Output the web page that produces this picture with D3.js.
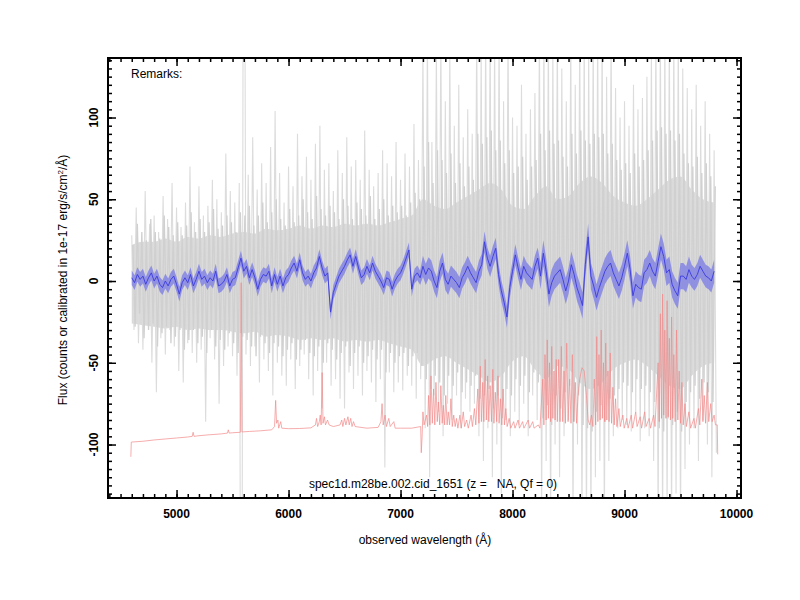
<!DOCTYPE html>
<html>
<head>
<meta charset="utf-8">
<script src="https://cdn.jsdelivr.net/npm/d3@7.9.0/dist/d3.min.js"></script>
<style>
  body { margin: 0; background: #fff; }
  text { font-family: "Liberation Sans", Arial, Helvetica, sans-serif; fill: #000; }
</style>
</head>
<body>
<svg id="chart" width="800" height="600"></svg>
<script>
// ---- data ----
// smoothed flux (blue), one value every 25 A starting at 4600
const blueStart = 4600, blueStep = 25;
const blueFlux = [
  2, -1, 4, 1,   3, -2, 2, 5,   0, 3, -2, -4,   0, -3, 1, 3,
  -2, -8, -1, 2,   -1, 4, -3, 1,   6, 1, 3, -1,   2, 0, 6, -3,
  -2, 0, 4, -3,   1, 2, 8, 14,   6, 9, 2, 7,   2, -5, 1, 4,
  3, 6, -3, 4,   -2, 3, -3, 2,   4, 8, 11, 6,   13, 5, 1, 3,
  0, 5, 8, 15,   8, 3, 5, -19,   -7, -2, 3, 6,   9, 13, 16, 9,
  15, 8, 2, 4,   9, 5, 11, 6,   3, 0, -4, 2,   1, -5, 0, 3,
  5, 9, 14, 19,   -5, 3, 5, 2,   9, 4, 8, 6,   0, -4, 6, 11,
  1, -2, 3, 1,   -1, -4, 2, 5,   9, 5, 2, -1,   6, 10, 24, 14,
  9, 15, 20, 4,   -6, -13, -22, -4,   6, 16, 8, 1,   9, 5, 3, 1,
  9, 14, 3, 17,   6, -8, -1, 3,   5, 7, 1, -6,   0, 10, 4, -4,
  -9, -15, 10, 27,   3, -3, -10, -4,   1, 6, 9, 11,   5, 1, -3, 2,
  9, 17, 7, -9,   -2, -4, -5, 5,   7, 11, 6, 3,   12, 21, 15, 5,
  7, -2, -6, -9,   3, 3, 1, 7,   3, 1, 4, 9,   6, 3, 2, 0,
  6
];
// error of the smoothed flux, per wavelength range [from, err]
const blueErr = [[4600, 4.5], [7200, 6.5], [8250, 8], [9600, 7]];

// raw spectrum (gray), outer swings, one value every 20 A from 4600
const grayStart = 4600, grayStep = 20;
const grayFlux = [
  28, -30, 45, -38, 22, -42, 55, -25, 35, -50,
  40, -68, 30, -35, 52, -45, 38, -30, 60, -40,
  45, -55, 33, -62, 48, -38, 70, -44, 36, -50,
  58, -42, 40, -86, 46, -35, 62, -48, 50, -75,
  42, -52, 78, -40, 55, -46, 48, -58, 60, -400,
  400, -45, 65, -52, 88, -40, 56, -62, 72, -48,
  60, -55, 82, -70, 104, -50, 66, -58, 48, -64,
  70, -48, 58, -66, 90, -52, 64, -45, 76, -60,
  62, -70, 84, -55, 95, -78, 68, -50, 72, -64,
  55, -60, 80, -72, 66, -78, 88, -56, 70, -66,
  74, -58, 62, -70, 92, -55, 68, -62, 58, -74,
  66, -60, 80, -114, 72, -56, 64, -68, 85, -62,
  62, -67, 78, -58, 70, -64, 96, -72, 74, -60,
  140, -90, 150, -120, 85, -70, 140, -80, 150, -95,
  110, -75, 140, -85, 95, -70, 120, -90, 88, -72,
  105, -80, 90, -75, 150, -95, 140, -110, 150, -90,
  150, -120, 145, -100, 150, -130, 110, -85, 150, -95,
  100, -80, 95, -88, 120, -75, 90, -95, 105, -70,
  115, -85, 150, -140, 150, -110, 150, -150, 140, -100,
  150, -120, 130, -95, 110, -85, 150, -150, 120, -100,
  150, -150, 150, -150, 140, -150, 150, -120, 150, -110,
  150, -150, 125, -110, 150, -95, 118, -90, 100, -85,
  110, -88, 95, -92, 120, -80, 105, -98, 112, -90,
  125, -95, 140, -110, 150, -150, 150, -150, 150, -140,
  150, -150, 150, -130, 150, -150, 130, -115, 118, -100,
  105, -90, 120, -110, 95, -85, 110, -100, 90, -120,
  80, -105
];
// raw spectrum, inner swings, one value every 20 A from 4610
const innerStart = 4610, innerStep = 20;
const innerFlux = [
  22, -28, 35, -20, 30, -35, 25, -30, 38, -26,
  30, -40, 26, -32, 40, -28, 33, -38, 28, -34,
  36, -30, 28, -42, 34, -36, 42, -30, 30, -38,
  38, -34, 30, -44, 36, -30, 44, -40, 32, -36,
  34, -42, 40, -32, 36, -38, 30, -44, 42, -34,
  40, -36, 46, -40, 34, -46, 40, -34, 48, -38,
  36, -44, 42, -38, 50, -40, 38, -46, 34, -42,
  44, -38, 36, -48, 40, -42, 50, -36, 42, -44,
  38, -46, 52, -40, 44, -50, 40, -38, 46, -42,
  42, -48, 38, -44, 50, -40, 46, -52, 38, -44,
  48, -40, 44, -50, 40, -46, 52, -42, 38, -48,
  44, -42, 50, -56, 40, -44, 46, -50, 42, -46,
  46, -44, 40, -52, 48, -46, 54, -44, 50, -52,
  70, -60, 85, -66, 60, -58, 80, -62, 74, -70,
  66, -58, 78, -64, 60, -56, 72, -68, 58, -62,
  70, -64, 62, -58, 90, -72, 84, -70, 88, -66,
  92, -78, 80, -70, 86, -84, 72, -66, 80, -70,
  66, -60, 70, -64, 76, -58, 62, -68, 70, -56,
  74, -62, 90, -84, 80, -76, 92, -88, 84, -70,
  86, -78, 76, -68, 70, -64, 90, -86, 78, -70,
  92, -88, 86, -90, 84, -92, 90, -80, 88, -76,
  90, -86, 78, -72, 84, -70, 74, -66, 68, -62,
  72, -64, 66, -68, 78, -60, 70, -66, 74, -64,
  80, -68, 86, -74, 92, -90, 94, -92, 90, -84,
  92, -88, 86, -80, 90, -92, 78, -74, 72, -68,
  70, -64, 76, -72, 66, -62, 72, -68, 64, -74,
  58
];
// dense core of the raw spectrum, every 100 A from 4600
const coreStart = 4600, coreStep = 100;
const coreHi = [
  22, 24, 24, 26, 24, 27, 26, 28, 27, 29,
  30, 29, 32, 31, 32, 34, 32, 34, 33, 35,
  34, 35, 34, 36, 38, 40, 50, 46, 44, 48,
  52, 56, 60, 56, 46, 44, 52, 58, 50, 52,
  60, 64, 60, 52, 48, 46, 50, 56, 62, 64,
  56, 50, 48
];
const coreLo = [
  -26, -27, -28, -29, -28, -30, -29, -30, -30, -31,
  -32, -31, -34, -33, -34, -36, -35, -36, -35, -37,
  -36, -37, -36, -38, -40, -42, -52, -48, -46, -50,
  -54, -58, -62, -58, -49, -46, -54, -60, -52, -54,
  -62, -66, -62, -54, -50, -48, -52, -58, -64, -66,
  -58, -52, -50
];

// sky / noise spectrum (red) as [wavelength, flux]
const skyLine = [
  [4592, -107.5], [4596, -98.5], [4700, -98], [4800, -97.2], [4900, -96.6], [5000, -96],
  [5100, -95.4], [5140, -95], [5148, -92.5], [5156, -95], [5200, -94.6], [5300, -94],
  [5400, -93.5], [5455, -93], [5462, -91], [5470, -93], [5500, -92.8], [5570, -92.5],
  [5577, -1], [5584, -92.3], [5650, -92], [5750, -91.6], [5850, -91], [5875, -89],
  [5885, -73], [5893, -87], [5905, -85], [5912, -90], [5930, -86], [5940, -90],
  [6000, -90.3], [6100, -90.2], [6200, -89.8], [6240, -88], [6250, -84], [6260, -89],
  [6275, -86], [6283, -82], [6291, -88], [6300, -56], [6308, -87], [6320, -83],
  [6330, -88], [6348, -85], [6362, -88], [6400, -89], [6460, -88], [6475, -85],
  [6485, -89], [6500, -84], [6512, -88], [6530, -83], [6542, -88], [6555, -84],
  [6567, -89], [6580, -86], [6595, -89], [6700, -90], [6800, -89.5], [6825, -86],
  [6835, -75], [6845, -88], [6862, -82], [6874, -89], [6895, -84], [6908, -89],
  [6940, -86], [6952, -90], [7000, -90], [7100, -90], [7180, -89], [7185, -105],
  [7192, -96], [7200, -80], [7210, -88], [7232, -82], [7242, -89],
  [7250, -70], [7262, -88], [7272, -58], [7284, -87], [7295, -66], [7306, -88],
  [7316, -62], [7328, -86], [7338, -74], [7350, -88], [7360, -64], [7372, -87],
  [7382, -76], [7394, -88], [7404, -70], [7416, -88], [7426, -80], [7438, -88],
  [7450, -72], [7462, -89], [7475, -82], [7488, -89], [7500, -84], [7512, -90],
  [7530, -82], [7542, -90], [7560, -80], [7572, -89], [7590, -85], [7605, -90],
  [7630, -82], [7642, -89], [7660, -78], [7672, -88], [7690, -66], [7700, -87],
  [7712, -52], [7722, -86], [7734, -62], [7744, -86], [7756, -48], [7766, -85],
  [7778, -58], [7788, -86], [7800, -64], [7812, -86], [7824, -54], [7834, -87],
  [7846, -68], [7858, -86], [7870, -58], [7880, -87], [7892, -72], [7904, -88],
  [7916, -66], [7928, -88], [7940, -78], [7952, -89], [7970, -84], [7984, -90],
  [8010, -86], [8022, -90], [8050, -85], [8062, -90], [8090, -86], [8102, -90],
  [8140, -85], [8152, -90], [8180, -86], [8192, -90], [8230, -88], [8245, -90],
  [8270, -60], [8280, -88], [8290, -45], [8300, -85], [8310, -36], [8320, -84],
  [8330, -50], [8340, -86], [8350, -40], [8360, -84], [8370, -55], [8380, -85],
  [8390, -48], [8400, -86], [8412, -48], [8424, -86], [8436, -40], [8448, -86],
  [8460, -55], [8472, -87], [8484, -38], [8496, -86], [8510, -60], [8522, -87],
  [8534, -45], [8546, -86], [8560, -62], [8572, -87], [8585, -70], [8600, -60],
  [8620, -53], [8640, -55], [8660, -70], [8675, -85], [8690, -88], [8705, -82],
  [8718, -89], [8730, -60], [8742, -88], [8752, -34], [8762, -86], [8772, -45],
  [8782, -85], [8792, -30], [8802, -84], [8812, -50], [8822, -86], [8832, -38],
  [8842, -85], [8852, -55], [8862, -86], [8872, -44], [8884, -87], [8896, -65],
  [8908, -88], [8920, -72], [8932, -89], [8950, -78], [8962, -89], [8985, -82],
  [8997, -90], [9020, -84], [9032, -90], [9060, -82], [9072, -90], [9100, -80],
  [9112, -89], [9140, -83], [9152, -90], [9180, -80], [9192, -89], [9220, -84],
  [9232, -90], [9260, -82], [9272, -89], [9300, -50], [9310, -86], [9320, -20],
  [9330, -84], [9340, -8], [9350, -82], [9360, -30], [9370, -84], [9380, -12],
  [9390, -83], [9400, -35], [9410, -85], [9420, -22], [9430, -84], [9440, -45],
  [9452, -86], [9464, -30], [9476, -85], [9488, -55], [9500, -87], [9512, -62],
  [9524, -88], [9540, -75], [9552, -89], [9575, -80], [9590, -90], [9620, -84],
  [9632, -90], [9660, -78], [9672, -88], [9690, -60], [9700, -86], [9712, -70],
  [9724, -87], [9740, -62], [9752, -86], [9770, -75], [9782, -86], [9800, -82],
  [9812, -88], [9828, -88], [9832, -106]
];

const xTicks = [5000, 6000, 7000, 8000, 9000, 10000];
const yTicks = [-100, -50, 0, 50, 100];
const titleText = 'spec1d.m28be.002.cid_1651 (z =   NA, Qf = 0)';

// ---- layout ----
const plot = { left: 108, right: 741, top: 58, bottom: 498 };

const x = d3.scaleLinear().domain([4388, 10040]).range([plot.left, plot.right]);
const y = d3.scaleLinear().domain([-132.7, 136.4]).range([plot.bottom, plot.top]);

const svg = d3.select('#chart');

svg.append('defs').append('clipPath').attr('id', 'clip')
  .append('rect')
  .attr('x', plot.left).attr('y', plot.top)
  .attr('width', plot.right - plot.left).attr('height', plot.bottom - plot.top);

const g = svg.append('g').attr('clip-path', 'url(#clip)');

function errAt(w) {
  let e = blueErr[0][1];
  for (const [from, v] of blueErr) if (w >= from) e = v;
  return e;
}

const blueRows = blueFlux.map((f, i) => ({ w: blueStart + i * blueStep, f }));
const grayRows = grayFlux.map((f, i) => ({ w: grayStart + i * grayStep, f }));
const innerRows = innerFlux.map((f, i) => ({ w: innerStart + i * innerStep, f }));
const coreRows = coreHi.map((hi, i) => ({ w: coreStart + i * coreStep, hi, lo: coreLo[i] }));

const flux = d3.line().x(d => x(d.w)).y(d => y(d.f));

// raw spectrum: dense core, then the swings over it
g.append('path')
  .datum(coreRows)
  .attr('fill', '#dadada')
  .attr('d', d3.area().x(d => x(d.w)).y0(d => y(d.lo)).y1(d => y(d.hi)).curve(d3.curveMonotoneX));

g.append('path')
  .datum(grayRows)
  .attr('fill', 'none')
  .attr('stroke', '#dcdcdc')
  .attr('stroke-width', 1.1)
  .attr('d', flux);

g.append('path')
  .datum(innerRows)
  .attr('fill', 'none')
  .attr('stroke', '#d0d0d0')
  .attr('stroke-width', 1.3)
  .attr('d', flux);

// sky spectrum
g.append('path')
  .datum(skyLine)
  .attr('fill', 'none')
  .attr('stroke', '#f28a8a')
  .attr('stroke-width', 0.7)
  .attr('d', d3.line().x(d => x(d[0])).y(d => y(d[1])));

// smoothed flux with error band
g.append('path')
  .datum(blueRows)
  .attr('fill', '#7a7ae6')
  .attr('fill-opacity', 0.75)
  .attr('d', d3.area()
    .x(d => x(d.w))
    .y0(d => y(d.f - errAt(d.w)))
    .y1(d => y(d.f + errAt(d.w))));

g.append('path')
  .datum(blueRows)
  .attr('fill', 'none')
  .attr('stroke', '#3a3ade')
  .attr('stroke-width', 0.9)
  .attr('d', flux);

// ---- axes (ticks pointing inward) ----
const xMinor = d3.range(4400, 10041, 100);
const yMinor = d3.range(-130, 136, 5);

function tickAxis(axis, transform) {
  svg.append('g')
    .attr('transform', transform)
    .call(axis)
    .call(a => a.select('.domain').remove())
    .call(a => a.selectAll('line').attr('stroke', '#000').attr('stroke-width', 1.5));
}

tickAxis(d3.axisBottom(x).tickValues(xMinor).tickSize(-4).tickFormat(''), `translate(0,${plot.bottom})`);
tickAxis(d3.axisBottom(x).tickValues(xTicks).tickSize(-8).tickFormat(''), `translate(0,${plot.bottom})`);
tickAxis(d3.axisTop(x).tickValues(xMinor).tickSize(-4).tickFormat(''), `translate(0,${plot.top})`);
tickAxis(d3.axisTop(x).tickValues(xTicks).tickSize(-8).tickFormat(''), `translate(0,${plot.top})`);
tickAxis(d3.axisLeft(y).tickValues(yMinor).tickSize(-4).tickFormat(''), `translate(${plot.left},0)`);
tickAxis(d3.axisLeft(y).tickValues(yTicks).tickSize(-8).tickFormat(''), `translate(${plot.left},0)`);
tickAxis(d3.axisRight(y).tickValues(yMinor).tickSize(-4).tickFormat(''), `translate(${plot.right},0)`);
tickAxis(d3.axisRight(y).tickValues(yTicks).tickSize(-8).tickFormat(''), `translate(${plot.right},0)`);

svg.append('rect')
  .attr('x', plot.left).attr('y', plot.top)
  .attr('width', plot.right - plot.left).attr('height', plot.bottom - plot.top)
  .attr('fill', 'none').attr('stroke', '#000').attr('stroke-width', 2);

// tick labels
svg.append('g').selectAll('text')
  .data(xTicks)
  .join('text')
  .attr('x', d => x(d))
  .attr('y', 518)
  .attr('text-anchor', 'middle')
  .attr('font-size', 12)
  .attr('font-weight', 'bold')
  .text(d => d);

svg.append('g').selectAll('text')
  .data(yTicks)
  .join('text')
  .attr('transform', d => `translate(98,${y(d)}) rotate(-90)`)
  .attr('text-anchor', 'middle')
  .attr('font-size', 12)
  .attr('font-weight', 'bold')
  .text(d => d);

// labels
svg.append('text')
  .attr('x', 425).attr('y', 544)
  .attr('text-anchor', 'middle')
  .attr('font-size', 12)
  .text('observed wavelength (Å)');

const yl = svg.append('text')
  .attr('transform', 'translate(67,280) rotate(-90)')
  .attr('text-anchor', 'middle')
  .attr('font-size', 12);
yl.append('tspan').text('Flux (counts or calibrated in 1e-17 erg/s/cm');
yl.append('tspan').attr('baseline-shift', 'super').attr('font-size', 8).text('2');
yl.append('tspan').text('/Å)');

svg.append('text')
  .attr('x', 131).attr('y', 78)
  .attr('font-size', 12)
  .text('Remarks:');

svg.append('text')
  .attr('x', 433).attr('y', 488)
  .attr('text-anchor', 'middle')
  .attr('font-size', 12)
  .style('white-space', 'pre')
  .text(titleText);
</script>
</body>
</html>
